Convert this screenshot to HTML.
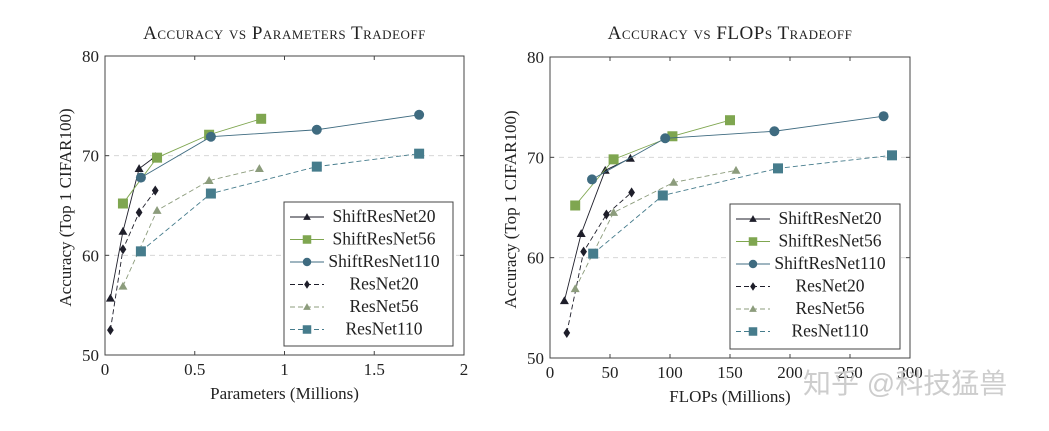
<!DOCTYPE html>
<html><head><meta charset="utf-8"><style>
body{margin:0;background:#fff;width:1049px;height:426px;overflow:hidden;}
svg text{font-family:"Liberation Serif",serif;}
</style></head><body>
<svg id="s" width="1049" height="426" xmlns="http://www.w3.org/2000/svg"></svg>
<script>
const seriesNames=["ShiftResNet20","ShiftResNet56","ShiftResNet110","ResNet20","ResNet56","ResNet110"];
const paramsX=[[0.03,0.1,0.19,0.28],[0.1,0.29,0.58,0.87],[0.2,0.59,1.18,1.75],[0.03,0.1,0.19,0.28],[0.1,0.29,0.58,0.86],[0.2,0.59,1.18,1.75]];
const flopsX=[[12,26,46,67],[21,53,102,150],[35,96,187,278],[14,28,47,68],[21,53,103,155],[36,94,190,285]];
const accY=[[55.7,62.4,68.7,69.9],[65.2,69.8,72.1,73.7],[67.8,71.9,72.6,74.1],[52.5,60.6,64.3,66.5],[56.9,64.5,67.5,68.7],[60.4,66.2,68.9,70.2]];
const yTicks=[50,60,70,80];
const paramTicks=[0,0.5,1,1.5,2];
const paramTickLabels=["0","0.5","1","1.5","2"];
const flopTicks=[0,50,100,150,200,250,300];
const flopTickLabels=["0","50","100","150","200","250","300"];

const styles=[
 {c:"#1e1e2a",dash:"",m:"tri",ms:4.5},
 {c:"#7fa650",dash:"",m:"sq",ms:5},
 {c:"#3f6b80",dash:"",m:"circ",ms:5},
 {c:"#1e1e2a",dash:"5,3",m:"dia",ms:4.2},
 {c:"#8c9c7c",dash:"5,3",m:"tri",ms:4.5},
 {c:"#467c8c",dash:"5,3",m:"sq",ms:5}];
const svg=document.getElementById('s');
const NS="http://www.w3.org/2000/svg";
function el(t,a,p){const e=document.createElementNS(NS,t);for(const k in a)e.setAttribute(k,a[k]);(p||svg).appendChild(e);return e;}
function marker(g,type,x,y,s,c){
 let e;
 if(type=="tri")e=el('polygon',{points:`${x},${y-s} ${x-s},${y+s*0.75} ${x+s},${y+s*0.75}`,fill:c},g);
 else if(type=="sq")e=el('rect',{x:x-s,y:y-s,width:2*s,height:2*s,fill:c},g);
 else if(type=="circ")e=el('circle',{cx:x,cy:y,r:s,fill:c},g);
 else e=el('polygon',{points:`${x},${y-s*1.2} ${x+s*0.8},${y} ${x},${y+s*1.2} ${x-s*0.8},${y}`,fill:c},g);
 return e;
}
function chart(cfg){
 const {x0,x1,y0,y1,xmin,xmax,xs,xticks,xlabels,title,xtitle,leg,key}=cfg;
 const g=el('g',{});
 
 
 const X=v=>x0+(v-xmin)/(xmax-xmin)*(x1-x0);
 const Y=v=>y1-(v-50)/30*(y1-y0);
 [60,70].forEach(v=>{const l=el('line',{x1:x0,x2:x1,y1:Y(v),y2:Y(v),stroke:"#d0d0d0","stroke-dasharray":"5,4","stroke-width":0.8},g);
  });
 const fr=el('rect',{x:x0,y:y0,width:x1-x0,height:y1-y0,fill:"none",stroke:"#444","stroke-width":1},g);
 
 yTicks.forEach(v=>{
  el('line',{x1:x0,x2:x0+4,y1:Y(v),y2:Y(v),stroke:"#444"},g);
  el('line',{x1:x1,x2:x1-4,y1:Y(v),y2:Y(v),stroke:"#444"},g);
  const t=el('text',{x:x0-6,y:Y(v)+6,"text-anchor":"end","font-size":17,fill:"#222"},g);t.textContent=v;
  
 });
 xticks.forEach((v,i)=>{
  el('line',{x1:X(v),x2:X(v),y1:y1,y2:y1-4,stroke:"#444"},g);
  el('line',{x1:X(v),x2:X(v),y1:y0,y2:y0+4,stroke:"#444"},g);
  const t=el('text',{x:X(v),y:y1+20,"text-anchor":"middle","font-size":17,fill:"#222"},g);t.textContent=xlabels[i];
  
 });
 const tt=el('text',{x:(x0+x1)/2,y:39,"text-anchor":"middle","font-size":19,"font-variant":"small-caps",fill:"#222","letter-spacing":"0.5"},g);tt.textContent=title;
 
 const xt=el('text',{x:(x0+x1)/2,y:y1+44,"text-anchor":"middle","font-size":17,fill:"#222"},g);xt.textContent=xtitle;
 
 const yt=el('text',{x:0,y:0,"text-anchor":"middle","font-size":17,fill:"#222",transform:`translate(${x0-34},${(y0+y1)/2+2}) rotate(-90)`},g);yt.textContent="Accuracy (Top 1 CIFAR100)";
 
 [3,4,5,0,1,2].forEach(i=>{
  const st=styles[i];
  const sg=el('g',{},g);
  
  
  const pts=xs[i].map((v,j)=>X(v)+","+Y(accY[i][j])).join(" ");
  el('polyline',{points:pts,fill:"none",stroke:st.c,"stroke-width":0.9,"stroke-dasharray":st.dash},sg);
  xs[i].forEach((v,j)=>{const m=marker(sg,st.m,X(v),Y(accY[i][j]),st.ms,st.c);
   });
 });
 const lg=el('g',{},g);
 
 
 el('rect',{x:leg.x,y:leg.y,width:leg.w,height:leg.h,fill:"#fff",stroke:"#444"},lg);
 seriesNames.forEach((n,i)=>{
  const st=styles[i];const yy=leg.y+15+i*22.5;
  const eg=el('g',{},lg);
  
  
  el('line',{x1:leg.x+6,x2:leg.x+40,y1:yy,y2:yy,stroke:st.c,"stroke-width":0.9,"stroke-dasharray":st.dash},eg);
  marker(eg,st.m,leg.x+23,yy,st.ms*0.85,st.c);
  const t=el('text',{x:leg.x+100,y:yy+5,"text-anchor":"middle","font-size":17.5,fill:"#222"},eg);t.textContent=n;
 });
}
chart({x0:105,x1:464,y0:56,y1:355,xmin:0,xmax:2,xs:paramsX,xticks:paramTicks,xlabels:paramTickLabels,
 title:"Accuracy vs Parameters Tradeoff",xtitle:"Parameters (Millions)",leg:{x:284,y:202,w:169,h:144},key:"params"});
chart({x0:550,x1:910,y0:57,y1:358,xmin:0,xmax:300,xs:flopsX,xticks:flopTicks,xlabels:flopTickLabels,
 title:"Accuracy vs FLOPs Tradeoff",xtitle:"FLOPs (Millions)",leg:{x:730,y:204,w:170,h:145},key:"flops"});
const wm=el('text',{x:803,y:393,"font-size":28,fill:"#cdcdcd",style:'font-family:"Liberation Sans","Noto Sans CJK SC",sans-serif'});
wm.textContent="知乎 @科技猛兽";


</script>
</body></html>
